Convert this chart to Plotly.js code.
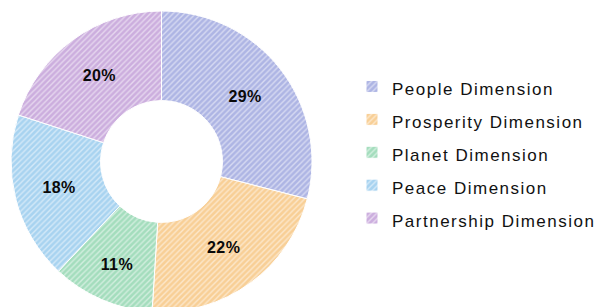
<!DOCTYPE html>
<html>
<head>
<meta charset="utf-8">
<script src="https://cdn.plot.ly/plotly-3.0.1.min.js"></script>
<style>
html,body{margin:0;padding:0;overflow:hidden;background:#fff;}
#chart{width:599px;height:312px;}
</style>
</head>
<body>
<div id="chart"></div>
<script>
var categories = ["People Dimension", "Prosperity Dimension", "Planet Dimension", "Peace Dimension", "Partnership Dimension"];
var shares = [29, 22, 11, 18, 20];
var sliceColors = ["#aeb5e4", "#f8cf96", "#a4ddbd", "#a8d3f0", "#ccaede"];

var legendLabels = categories.map(function (c) {
  return '<span style="font-size:17px;letter-spacing:1.5px">' + c + '</span>';
});

var W = 599, H = 312;
var cx = 161.5, cyTop = 161.5, r = 150.5;

var trace = {
  type: "pie",
  labels: legendLabels,
  values: shares,
  sort: false,
  direction: "clockwise",
  rotation: 0,
  hole: 0.405,
  marker: {
    colors: sliceColors,
    line: {color: "#ffffff", width: 1},
    pattern: {shape: "/", fillmode: "overlay", fgcolor: "#ffffff", size: 4, solidity: 0.35}
  },
  texttemplate: '<span style="letter-spacing:0.4px">%{value}%</span>',
  textposition: "inside",
  insidetextorientation: "horizontal",
  textfont: {family: "Liberation Sans, Arial, sans-serif", size: 16, color: "#0a0a0a", weight: "bold"},
  domain: {
    x: [(cx - r) / W, (cx + r) / W],
    y: [(H - cyTop - r) / H, (H - cyTop + r) / H]
  },
  hoverinfo: "label+percent"
};

var layout = {
  width: W,
  height: H,
  margin: {l: 0, r: 0, t: 0, b: 0, autoexpand: false},
  paper_bgcolor: "#ffffff",
  showlegend: true,
  legend: {
    x: 352 / W,
    xanchor: "left",
    y: (H - 152.5) / H,
    yanchor: "middle",
    font: {family: "Liberation Sans, Arial, sans-serif", size: 23, color: "#111111"},
    bgcolor: "rgba(0,0,0,0)"
  },
  font: {family: "Liberation Sans, Arial, sans-serif"}
};

Plotly.newPlot("chart", [trace], layout, {displayModeBar: false, staticPlot: true});
</script>
</body>
</html>
